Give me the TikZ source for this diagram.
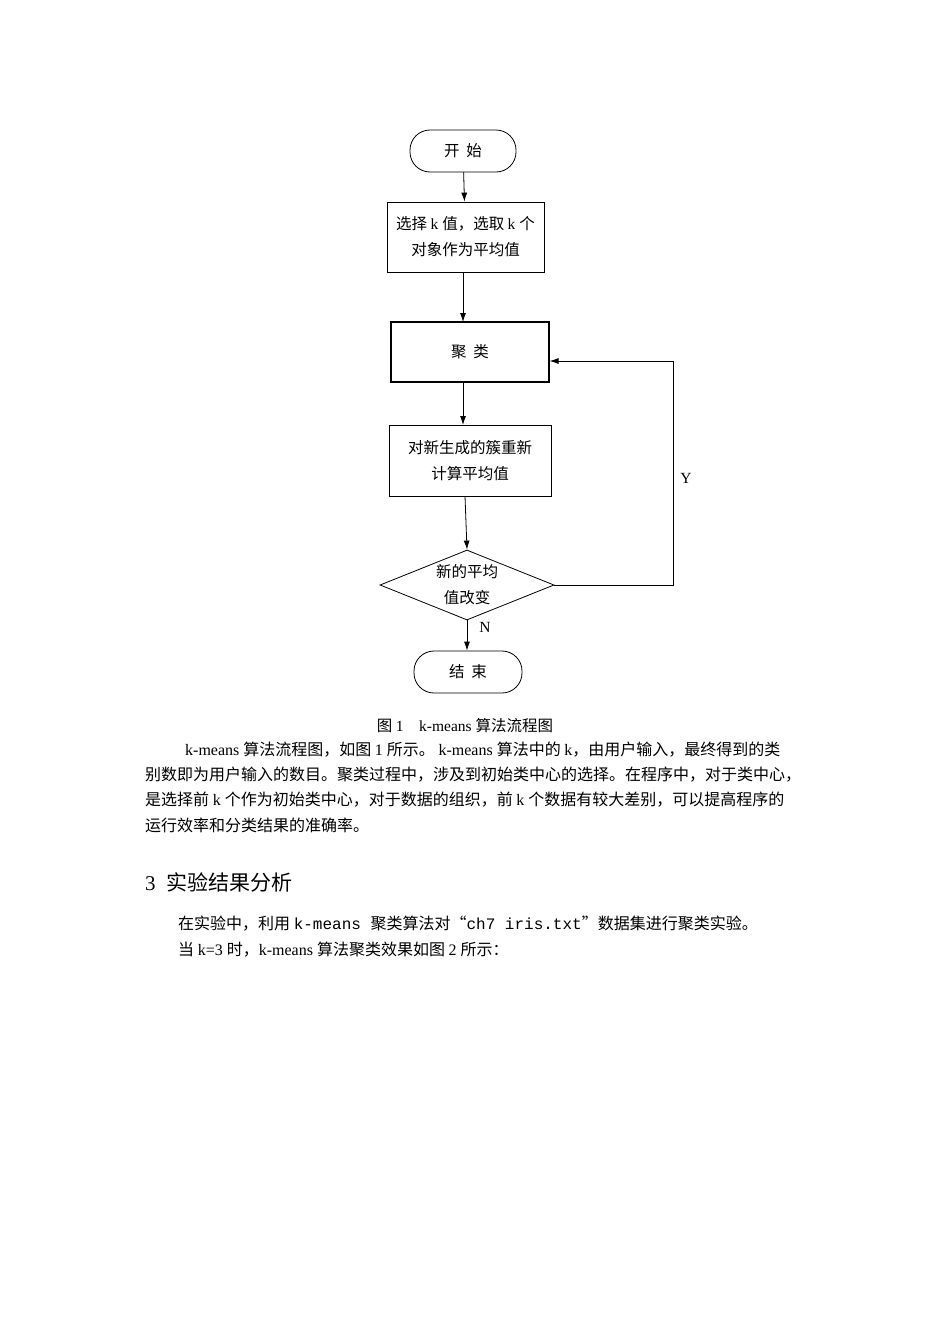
\documentclass[tikz,border=0pt]{standalone}
\usepackage{fontspec}
\setmainfont{Liberation Serif}
\newfontfamily\cjk{Noto Sans CJK SC}
\newfontfamily\mono{Liberation Mono}
\usetikzlibrary{shapes.geometric,arrows.meta}
\begin{document}
\begin{tikzpicture}[x=1pt,y=-1pt,
  every node/.style={font=\fontsize{15.5}{24}\selectfont},
  box/.style={draw,thick,align=center,inner sep=0},
  arr/.style={-{Latex[length=9pt,width=6pt]},thick},
  txt/.style={anchor=west,inner sep=0,font=\fontsize{16}{20}\selectfont}]
\useasboundingbox (0,0) rectangle (950,1344);
\node[box,rounded corners=20pt,minimum width=106pt,minimum height=42pt] (start) at (463,151) {\cjk 开\ \ 始};
\node[box,minimum width=157pt,minimum height=70pt] (b1) at (465.5,237) {\cjk 选择 \rmfamily k \cjk 值，选取 \rmfamily k \cjk 个\\[2pt]\cjk 对象作为平均值};
\node[box,very thick,minimum width=158pt,minimum height=60pt] (b2) at (470,352) {\cjk 聚\ \ 类};
\node[box,minimum width=162pt,minimum height=71pt] (b3) at (470,460.5) {\cjk 对新生成的簇重新\\[2pt]\cjk 计算平均值};
\node[draw,thick,diamond,aspect=2.5,minimum width=174pt,minimum height=70pt,inner sep=0,align=center] (d) at (467,585) {\cjk 新的平均\\[2pt]\cjk 值改变};
\node[box,rounded corners=20pt,minimum width=108pt,minimum height=42pt] (end) at (468,672) {\cjk 结\ \ 束};
\draw[arr] (start) -- (b1);
\draw[arr] (b1.south -| 463,0) -- (463,322);
\draw[arr] (463,382) -- (463,425);
\draw[arr] (465,496) -- (d.north);
\draw[arr] (d.south) -- (end.north -| d.south);
\coordinate (c1) at (673,585);
\draw[arr] (d.east) -- (c1) -- (673,361) -- (b2.east |- 0,361);
\node at (485,627) {N};
\node at (686,478) {Y};
\node at (465,726) {\cjk 图 \rmfamily 1\quad k-means \cjk 算法流程图};
\node[txt] at (185,750) {k-means \cjk 算法流程图，如图 \rmfamily 1 \cjk 所示。 \rmfamily k-means \cjk 算法中的 \rmfamily k\cjk ，由用户输入，最终得到的类};
\node[txt] at (145,775) {\cjk 别数即为用户输入的数目。聚类过程中，涉及到初始类中心的选择。在程序中，对于类中心，};
\node[txt] at (145,800) {\cjk 是选择前 \rmfamily k \cjk 个作为初始类中心，对于数据的组织，前 \rmfamily k \cjk 个数据有较大差别，可以提高程序的};
\node[txt] at (145,825) {\cjk 运行效率和分类结果的准确率。};
\node[txt,font=\fontsize{21}{24}\selectfont] at (145,882) {3\ \ \cjk 实验结果分析};
\node[txt] at (178,924) {\cjk 在实验中，利用 \mono k-means \cjk 聚类算法对“\mono ch7 iris.txt\cjk ”数据集进行聚类实验。};
\node[txt] at (178,950) {\cjk 当 \rmfamily k=3 \cjk 时，\rmfamily k-means \cjk 算法聚类效果如图 \rmfamily 2 \cjk 所示：};
\end{tikzpicture}
\end{document}
